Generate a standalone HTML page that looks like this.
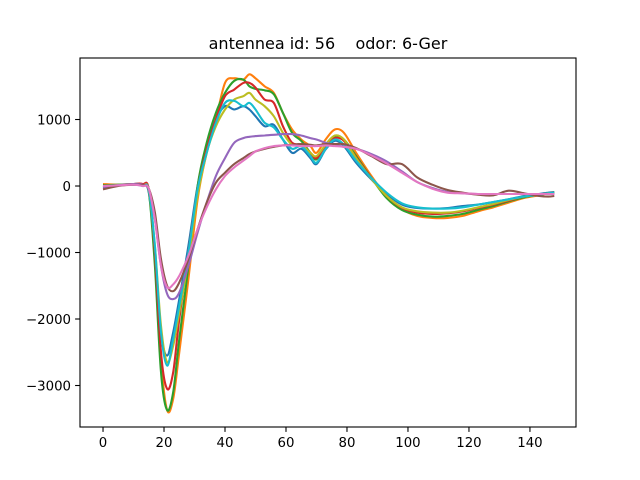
<!DOCTYPE html>
<html><head><meta charset="utf-8"><style>
html,body{margin:0;padding:0;background:#fff;}
svg{display:block;font-family:"DejaVu Sans","Liberation Sans",sans-serif;}
</style></head><body>
<svg id="chart" width="640" height="480" viewBox="0 0 640 480" xmlns="http://www.w3.org/2000/svg">
<rect width="640" height="480" fill="#fff"/>
<text x="328" y="49" text-anchor="middle" font-size="16" fill="#000" xml:space="preserve">antennea id: 56    odor: 6-Ger</text>
<g id="plot"></g>
<g id="axes"></g>
</svg>
<script>
const xs = [0,5,10,13,15,17,19,21,23,25,28,31,34,37,40,43,46,48,50,53,56,59,62,65,68,70,73,76,79,83,88,93,98,103,108,113,118,123,128,133,138,143,146,148];
const xTicks = [0,20,40,60,80,100,120,140];
const yTicks = [1000,0,-1000,-2000,-3000];
const blue = [-20,10,30,20,-100,-1000,-2200,-2550,-2200,-1700,-900,0,600,1000,1200,1150,1200,1150,1050,900,920,700,500,560,420,330,550,680,600,350,100,-120,-280,-330,-340,-330,-300,-280,-240,-200,-150,-120,-100,-90];
const orange = [30,20,30,10,-50,-1000,-2600,-3370,-3200,-2500,-1400,-200,500,1000,1550,1620,1600,1680,1620,1500,1400,1100,850,700,600,500,700,850,800,500,150,-150,-350,-450,-480,-480,-450,-380,-320,-250,-180,-140,-110,-100];
const green = [10,20,30,20,-80,-1200,-2800,-3370,-3100,-2300,-1200,0,650,1100,1400,1580,1600,1500,1460,1440,1380,1100,800,680,500,400,620,750,700,450,120,-180,-360,-430,-460,-450,-420,-360,-300,-230,-170,-130,-110,-100];
const red = [0,10,30,30,-50,-1000,-2500,-3050,-2800,-2000,-1000,-50,550,1000,1350,1450,1550,1550,1480,1300,1250,900,650,620,500,420,600,720,680,430,120,-150,-330,-400,-420,-410,-380,-330,-280,-220,-160,-130,-110,-100];
const olive = [0,10,20,10,-60,-900,-2100,-2650,-2400,-1900,-1100,-150,500,900,1150,1300,1350,1400,1300,1200,1050,800,620,620,500,450,620,760,700,420,110,-150,-320,-380,-400,-400,-370,-320,-270,-210,-160,-130,-110,-100];
const cyan = [-20,10,20,0,-60,-900,-2200,-2700,-2300,-1800,-1000,-50,500,950,1250,1280,1200,1250,1150,950,880,700,560,600,450,350,560,700,620,380,120,-100,-260,-320,-340,-340,-320,-280,-240,-200,-160,-130,-110,-100];
const purple = [-30,10,30,20,-50,-500,-1200,-1620,-1700,-1600,-1200,-700,-250,150,420,650,720,740,750,760,770,780,780,760,720,700,650,620,590,560,480,370,220,60,-30,-90,-110,-120,-120,-120,-120,-120,-120,-120];
const brown = [-50,0,20,10,-40,-400,-1100,-1500,-1580,-1450,-1100,-650,-250,50,200,330,420,480,520,560,590,610,620,630,620,610,630,630,630,570,450,330,330,130,20,-60,-100,-130,-140,-70,-110,-150,-160,-150];
const pink = [0,10,20,0,-40,-500,-1200,-1520,-1480,-1350,-1050,-650,-320,-50,150,280,380,450,520,570,600,610,610,600,600,600,610,600,590,560,460,340,200,60,-40,-100,-110,-120,-120,-120,-120,-120,-120,-120];
const seriesList = [
  ['series-blue', blue, '#1f77b4'],
  ['series-orange', orange, '#ff7f0e'],
  ['series-green', green, '#2ca02c'],
  ['series-red', red, '#d62728'],
  ['series-olive', olive, '#bcbd22'],
  ['series-cyan', cyan, '#17becf'],
  ['series-purple', purple, '#9467bd'],
  ['series-brown', brown, '#8c564b'],
  ['series-pink', pink, '#e377c2']
];
const L=80,R=576,T=58,B=427;
const xmin=-7.55,xmax=155.1,ymin=-3624,ymax=1925;
function sx(v){return L+(v-xmin)/(xmax-xmin)*(R-L);}
function sy(v){return B-(v-ymin)/(ymax-ymin)*(B-T);}
const NS='http://www.w3.org/2000/svg';
const plot=document.getElementById('plot');
const axes=document.getElementById('axes');
function smoothPath(pts){
  let d='M'+pts[0][0].toFixed(1)+','+pts[0][1].toFixed(1);
  for(let i=0;i<pts.length-1;i++){
    const p0=pts[Math.max(0,i-1)],p1=pts[i],p2=pts[i+1],p3=pts[Math.min(pts.length-1,i+2)];
    const c1x=p1[0]+(p2[0]-p0[0])/6,c1y=p1[1]+(p2[1]-p0[1])/6;
    const c2x=p2[0]-(p3[0]-p1[0])/6,c2y=p2[1]-(p3[1]-p1[1])/6;
    d+=' C'+c1x.toFixed(1)+','+c1y.toFixed(1)+' '+c2x.toFixed(1)+','+c2y.toFixed(1)+' '+p2[0].toFixed(1)+','+p2[1].toFixed(1);
  }
  return d;
}
seriesList.forEach(s=>{
  const pts=xs.map((x,i)=>[sx(x),sy(s[1][i])]);
  const p=document.createElementNS(NS,'path');
  p.setAttribute('d',smoothPath(pts));
  p.setAttribute('fill','none');
  p.setAttribute('stroke',s[2]);
  p.setAttribute('stroke-width','2.1');
  p.setAttribute('stroke-linejoin','round');
  
  
  plot.appendChild(p);
});
const frame=document.createElementNS(NS,'rect');
frame.setAttribute('x',L);frame.setAttribute('y',T);
frame.setAttribute('width',R-L);frame.setAttribute('height',B-T);
frame.setAttribute('fill','none');frame.setAttribute('stroke','#000');frame.setAttribute('stroke-width','1.1');


axes.appendChild(frame);
xTicks.forEach(t=>{
  const x=sx(t);
  const ln=document.createElementNS(NS,'line');
  ln.setAttribute('x1',x);ln.setAttribute('x2',x);ln.setAttribute('y1',B);ln.setAttribute('y2',B+4.9);
  ln.setAttribute('stroke','#000');ln.setAttribute('stroke-width','1.1');
  
  
  axes.appendChild(ln);
  const tx=document.createElementNS(NS,'text');
  tx.setAttribute('x',x);tx.setAttribute('y',B+20);tx.setAttribute('text-anchor','middle');tx.setAttribute('font-size','13.3');
  tx.textContent=t;
  
  
  axes.appendChild(tx);
});
yTicks.forEach(t=>{
  const y=sy(t);
  const ln=document.createElementNS(NS,'line');
  ln.setAttribute('x1',L-4.9);ln.setAttribute('x2',L);ln.setAttribute('y1',y);ln.setAttribute('y2',y);
  ln.setAttribute('stroke','#000');ln.setAttribute('stroke-width','1.1');
  
  
  axes.appendChild(ln);
  const tx=document.createElementNS(NS,'text');
  tx.setAttribute('x',L-9);tx.setAttribute('y',y+4.8);tx.setAttribute('text-anchor','end');tx.setAttribute('font-size','13.3');
  tx.textContent=t<0?'\u2212'+Math.abs(t):String(t);
  
  
  axes.appendChild(tx);
});
</script>
</body></html>
